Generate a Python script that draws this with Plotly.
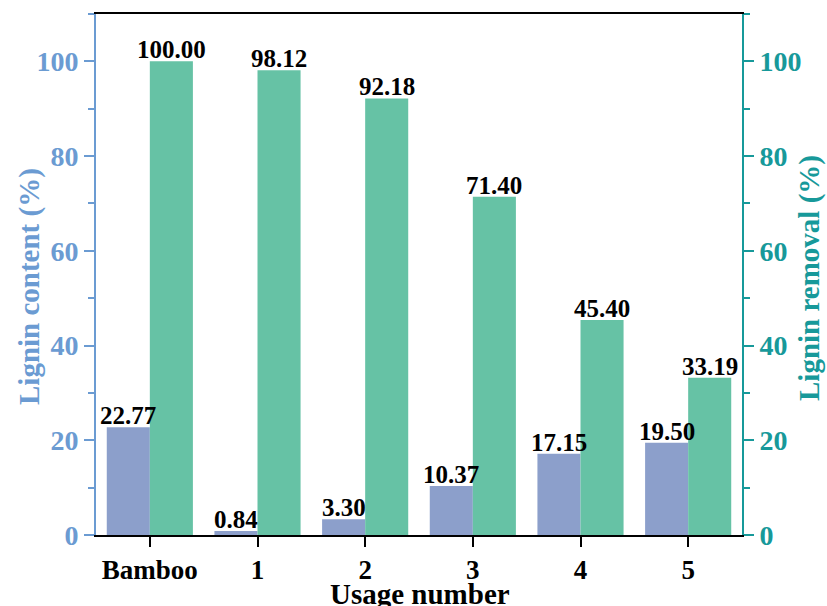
import plotly.graph_objects as go

categories = ["Bamboo", "1", "2", "3", "4", "5"]
lignin_content = [22.77, 0.84, 3.30, 10.37, 17.15, 19.50]
lignin_removal = [100.00, 98.12, 92.18, 71.40, 45.40, 33.19]

BLUE_AX = "#6b9bd2"
TEAL_AX = "#17999a"
BAR1 = "#8c9fcb"
BAR2 = "#66c2a5"
FONT = "Liberation Serif"

W, H = 827, 606
ML, MR, MT, MB = 96, 85, 14, 71
PW = W - ML - MR
PH = H - MT - MB
BAR_W = 0.4
CAT_PX = PW / 6.0

fig = go.Figure()
fig.add_trace(go.Bar(
    x=categories, y=lignin_content, name="Lignin content",
    marker=dict(color=BAR1, line=dict(width=0)),
    width=BAR_W, offset=-BAR_W, yaxis="y",
))
fig.add_trace(go.Bar(
    x=categories, y=lignin_removal, name="Lignin removal",
    marker=dict(color=BAR2, line=dict(width=0)),
    width=BAR_W, offset=0.0, yaxis="y2",
))

annotations = []
label_font = dict(family=FONT, size=25, color="black", weight="bold")
shift = BAR_W * CAT_PX / 2
for c, v in zip(categories, lignin_content):
    annotations.append(dict(x=c, y=v, xref="x", yref="y", text=f"{v:.2f}",
                            showarrow=False, xanchor="center", yanchor="bottom",
                            xshift=-shift, yshift=-4, font=label_font))
for c, v in zip(categories, lignin_removal):
    annotations.append(dict(x=c, y=v, xref="x", yref="y2", text=f"{v:.2f}",
                            showarrow=False, xanchor="center", yanchor="bottom",
                            xshift=shift, yshift=-4, font=label_font))

title_font = 29
annotations.append(dict(text="Usage number", xref="paper", yref="paper",
                        x=(420 - ML) / PW, y=-(594 - (MT + PH)) / PH,
                        xanchor="center", yanchor="middle", showarrow=False,
                        font=dict(family=FONT, size=title_font, color="black", weight="bold")))
annotations.append(dict(text="Lignin content (%)", xref="paper", yref="paper",
                        x=-(ML - 29) / PW, y=(MT + PH - 287) / PH, textangle=-90,
                        xanchor="center", yanchor="middle", showarrow=False,
                        font=dict(family=FONT, size=title_font, color=BLUE_AX, weight="bold")))
annotations.append(dict(text="Lignin removal (%)", xref="paper", yref="paper",
                        x=1 + (809 - (ML + PW)) / PW, y=(MT + PH - 278) / PH, textangle=-90,
                        xanchor="center", yanchor="middle", showarrow=False,
                        font=dict(family=FONT, size=title_font, color=TEAL_AX, weight="bold")))

fig.update_layout(
    width=W, height=H,
    margin=dict(l=ML, r=MR, t=MT, b=MB, autoexpand=False),
    paper_bgcolor="white", plot_bgcolor="white",
    barmode="overlay", showlegend=False,
    font=dict(family=FONT),
    annotations=annotations,
    xaxis=dict(
        type="category", range=[-0.5, 5.5], automargin=False,
        showline=True, linecolor="black", linewidth=2, mirror=True,
        ticks="outside", ticklen=10, tickwidth=2, tickcolor="black",
        tickfont=dict(family=FONT, size=27, color="black", weight="bold"),
        showgrid=False, zeroline=False,
    ),
    yaxis=dict(
        range=[0, 110], dtick=20, tick0=0, automargin=False,
        showline=True, linecolor=BLUE_AX, linewidth=2,
        ticks="outside", ticklen=10, tickwidth=2, tickcolor=BLUE_AX,
        minor=dict(dtick=10, ticklen=6, tickwidth=2, tickcolor=BLUE_AX, ticks="outside"),
        tickfont=dict(family=FONT, size=28, color=BLUE_AX, weight="bold"),
        showgrid=False, zeroline=False,
    ),
    yaxis2=dict(
        range=[0, 110], dtick=20, tick0=0, overlaying="y", side="right", automargin=False,
        showline=True, linecolor=TEAL_AX, linewidth=2,
        ticks="outside", ticklen=10, tickwidth=2, tickcolor=TEAL_AX,
        minor=dict(dtick=10, ticklen=6, tickwidth=2, tickcolor=TEAL_AX, ticks="outside"),
        tickfont=dict(family=FONT, size=28, color=TEAL_AX, weight="bold"),
        showgrid=False, zeroline=False,
    ),
)

fig.write_html("out.html", config={"displayModeBar": False},
               post_script="document.body.style.margin='0';document.body.style.padding='0';")
